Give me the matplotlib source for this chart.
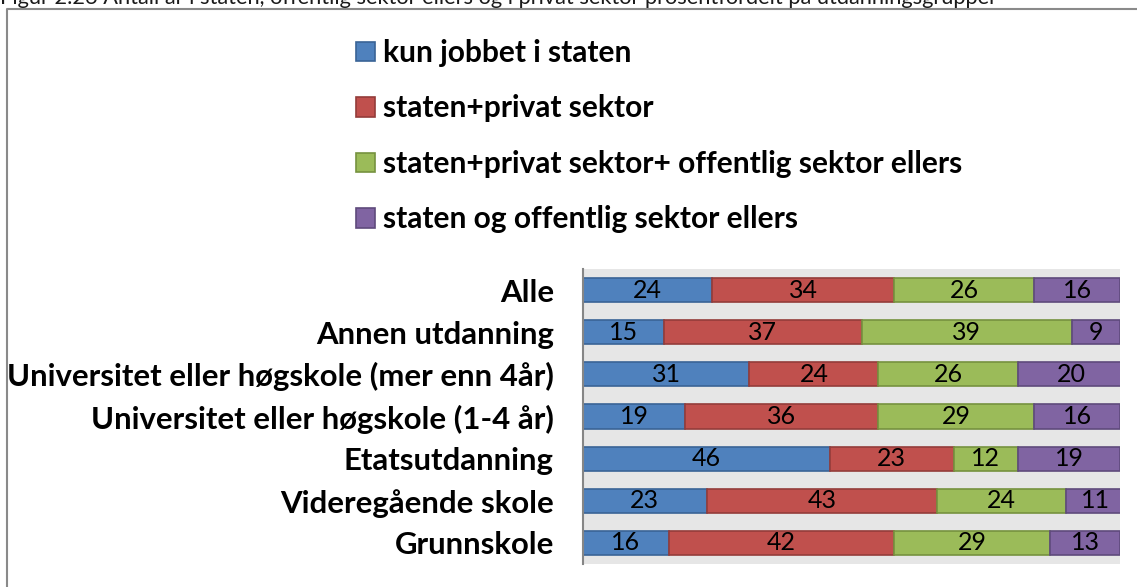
import matplotlib
matplotlib.use("Agg")
import matplotlib.pyplot as plt
import numpy as np

plt.rcParams["font.family"] = ["Lato", "DejaVu Sans"]

title = ("Figur 2.26 Antall år i staten, offentlig sektor ellers og i privat sektor "
         "prosentfordelt på utdanningsgrupper")

categories = [
    "Grunnskole",
    "Videregående skole",
    "Etatsutdanning",
    "Universitet eller høgskole (1-4 år)",
    "Universitet eller høgskole (mer enn 4år)",
    "Annen utdanning",
    "Alle",
]
series_names = [
    "kun jobbet i staten",
    "staten+privat sektor",
    "staten+privat sektor+ offentlig sektor ellers",
    "staten og offentlig sektor ellers",
]
kun_staten = [16, 23, 46, 19, 31, 15, 24]
staten_privat = [42, 43, 23, 36, 24, 37, 34]
staten_privat_off = [29, 24, 12, 29, 26, 39, 26]
staten_off = [13, 11, 19, 16, 20, 9, 16]

colors = ["#4F81BD", "#C0504D", "#9BBB59", "#8064A2"]
edges = ["#3A6496", "#943C3A", "#76923F", "#5F4A7C"]

W, H = 1137, 587
fig = plt.figure(figsize=(W / 100, H / 100), dpi=100)
ax = fig.add_axes([583 / W, 1 - 564 / H, (1120 - 583) / W, (564 - 269) / H])
ax.set_facecolor("#E6E6E6")

y = np.arange(len(categories))
left = np.zeros(len(categories))
handles = []
for vals, name, c, e in zip([kun_staten, staten_privat, staten_privat_off, staten_off],
                            series_names, colors, edges):
    vals = np.array(vals, dtype=float)
    b = ax.barh(y, vals, left=left, height=0.57, color=c, edgecolor=e,
                linewidth=1.2, label=name)
    handles.append(b)
    for yi, l, v in zip(y, left, vals):
        ax.text(l + v / 2, yi, f"{int(v)}", ha="center", va="center",
                fontsize=18, color="black")
    left += vals

ax.set_xlim(0, 100)
ax.set_ylim(-0.5, len(categories) - 0.5)
ax.set_yticks(y)
ax.set_yticklabels(categories, fontsize=22.4, fontweight="bold")
ax.tick_params(axis="y", length=0, pad=21)
ax.set_xticks([])
for s in ["top", "right", "bottom"]:
    ax.spines[s].set_visible(False)
ax.spines["left"].set_color("#868686")
ax.spines["left"].set_linewidth(1.5)

fig.legend(handles=handles, labels=series_names, loc="upper left",
           bbox_to_anchor=(356 / W, 1 - 39 / H), frameon=False,
           prop={"size": 21.5, "weight": "bold"}, handlelength=0.64,
           handleheight=0.64, handletextpad=0.27, labelspacing=0.92,
           borderpad=0, borderaxespad=0)

fig.text(0.0, 1 - 4 / H, title, fontsize=15.7, va="baseline", ha="left",
         color="#1a1a1a")

fig.add_artist(plt.Line2D([7 / W, 7 / W, 1], [0, 1 - 8.5 / H, 1 - 8.5 / H],
                          transform=fig.transFigure, color="#8A8A8A", lw=1.5))

fig.savefig("out.png", dpi=100)
